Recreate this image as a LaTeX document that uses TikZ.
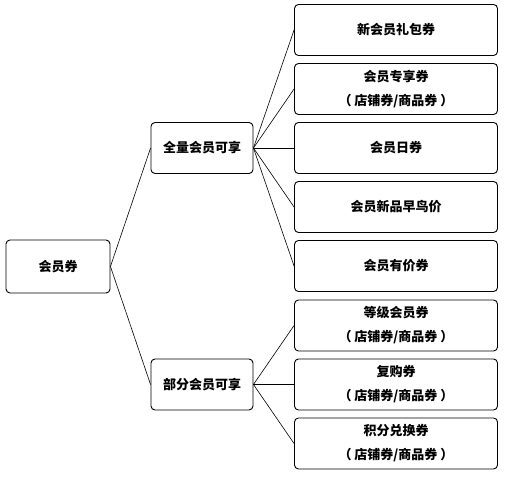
\documentclass[tikz,border=0pt]{standalone}
\usepackage{fontspec}
\newfontfamily\cjk{Noto Sans CJK SC}
\newcommand{\shoptag}{（\hspace{3pt}店铺券/商品券\hspace{3pt}）}
\tikzset{
  box/.style={draw=black, line width=0.9pt, rounded corners=4pt, align=center,
    inner sep=0pt, font=\cjk\bfseries\fontsize{13}{24}\selectfont},
  midbox/.style={box, minimum width=102pt, minimum height=51pt},
  leafbox/.style={box, minimum width=203pt, minimum height=51pt},
  link/.style={draw=black, line width=0.6pt}
}
\begin{document}
\begin{tikzpicture}[x=1pt, y=-1pt]
\useasboundingbox (0,0) rectangle (522,478);
\node[box, minimum width=104pt, minimum height=53pt] (root) at (58,266.5) {会员券};
\node[midbox] (all) at (202,148) {全量会员可享};
\node[midbox] (part) at (202,384.5) {部分会员可享};
\node[leafbox] (l1) at (396,30) {新会员礼包券};
\node[leafbox] (l2) at (396,89) {会员专享券\\\shoptag};
\node[leafbox] (l3) at (396,148) {会员日券};
\node[leafbox] (l4) at (396,207) {会员新品早鸟价};
\node[leafbox] (l5) at (396,266) {会员有价券};
\node[leafbox] (l6) at (396,325.5) {等级会员券\\\shoptag};
\node[leafbox] (l7) at (396,384.5) {复购券\\\shoptag};
\node[leafbox] (l8) at (396,443.5) {积分兑换券\\\shoptag};
\draw[link] (root.east) -- (all.west);
\draw[link] (root.east) -- (part.west);
\foreach \n in {l1,l2,l3,l4,l5} \draw[link] (all.east) -- (\n.west);
\foreach \n in {l6,l7,l8} \draw[link] (part.east) -- (\n.west);
\end{tikzpicture}
\end{document}
